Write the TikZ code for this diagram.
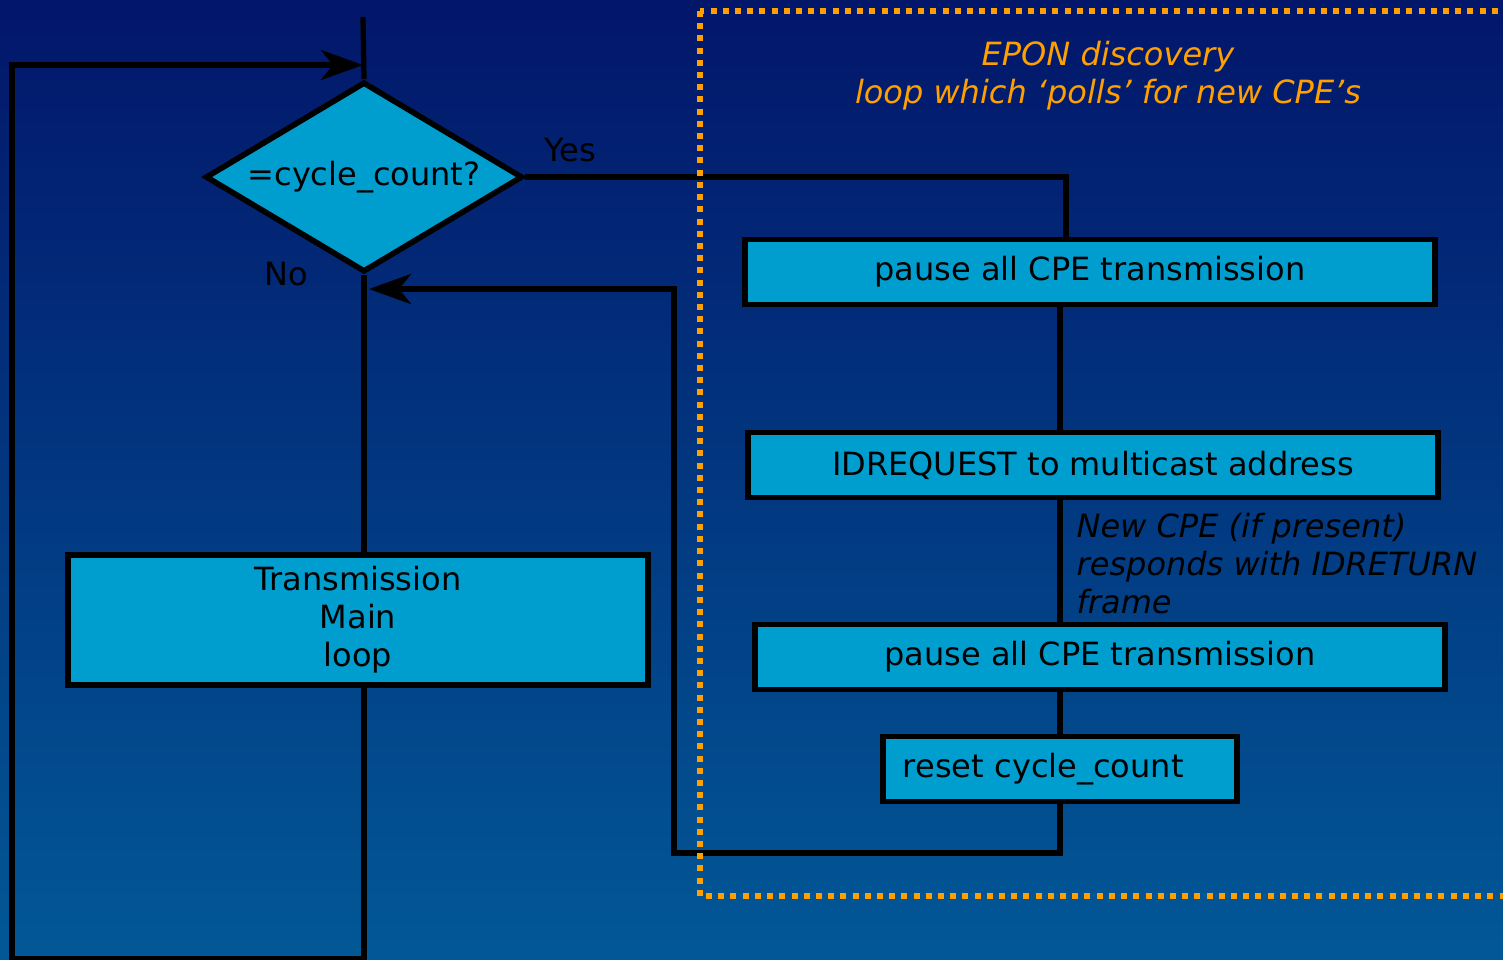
\documentclass[tikz,border=0pt]{standalone}
\usepackage{fontspec}
\setmainfont{DejaVu Sans}
\usetikzlibrary{shapes.geometric,arrows.meta}

\definecolor{boxblue}{RGB}{0,158,206}
\definecolor{loopline}{RGB}{255,160,0}
\definecolor{bgtop}{RGB}{2,22,106}
\definecolor{bgmid}{RGB}{0,46,166}
\definecolor{bgbot}{RGB}{2,88,150}

\begin{document}
\begin{tikzpicture}[x=0.01cm,y=-0.01cm,
  every node/.style={font=\fontsize{9.1}{10.8}\selectfont},
  wire/.style={line width=1.5pt},
  flow/.style={wire,-{Stealth[length=0.42cm,width=0.3cm,inset=0.12cm]}},
  stepbox/.style={draw=black,line width=1.6pt,fill=boxblue,inner sep=0pt,minimum height=0.65cm},
  decision/.style={shape=diamond,aspect=1.67,draw=black,line width=1.6pt,fill=boxblue,inner sep=0pt,minimum width=3.17cm,minimum height=1.9cm},
  note/.style={align=left,anchor=north west,inner sep=0pt,font=\fontsize{9.1}{10.8}\selectfont\itshape},
  title/.style={loopline,align=center,font=\fontsize{9.1}{10.8}\selectfont\itshape}]
\useasboundingbox (0,0) rectangle (1503,959);
\shade[top color=bgtop,middle color=bgmid,bottom color=bgbot] (0,0) rectangle (1503,959);

% decision and main loop
\node[decision] (cycle) at (364,177) {=cycle\_count?};
\node (yes) at (570,150) {Yes};
\node (no) at (286,274) {No};
\node[stepbox,minimum width=5.8cm,minimum height=1.3cm,align=center] (mainloop) at (358,620) {Transmission\\Main\\loop};

% discovery loop
\node[title] (epon) at (1108,76) {EPON discovery\\loop which ‘polls’ for new CPE’s};
\node[stepbox,minimum width=6.89cm] (pauseA) at (1090,272) {pause all CPE transmission};
\node[stepbox,minimum width=6.89cm] (idreq) at (1093,465) {IDREQUEST to multicast address};
\node[note] (resp) at (1076,512) {New CPE (if present)\\responds with IDRETURN\\frame};
\node[stepbox,minimum width=6.89cm] (pauseB) at (1100,657) {pause all CPE transmission};
\node[stepbox,minimum width=3.54cm,text width=3.14cm,align=left] (reset) at (1060,769) {reset cycle\_count};

\coordinate (entry) at (363,17);
\coordinate (join) at (363,65);
\coordinate (yesC) at (1066,177);
\coordinate (spine) at (1060,0);
\coordinate (retB) at (674,853);
\coordinate (retJ) at (369,289);
\coordinate (botL) at (12,959);

\draw[wire] (entry) -- (cycle.north);
\draw[wire] (cycle.east) -- (yesC) -- (yesC |- pauseA.north);
\draw[wire] (pauseA.south -| spine) -- (idreq.north -| spine);
\draw[wire] (idreq.south -| spine) -- (pauseB.north -| spine);
\draw[wire] (pauseB.south -| spine) -- (reset.north -| spine);
\draw[flow] (reset.south) |- (retB) |- (retJ);
\draw[wire] (cycle.south) -- (cycle.south |- mainloop.north);
\draw[flow] (cycle.south |- mainloop.south) |- (botL) |- (join);

\draw[loopline,line width=1.7pt,dash pattern=on 0.06cm off 0.062cm] (700,11) rectangle (1520,896);
\end{tikzpicture}
\end{document}
